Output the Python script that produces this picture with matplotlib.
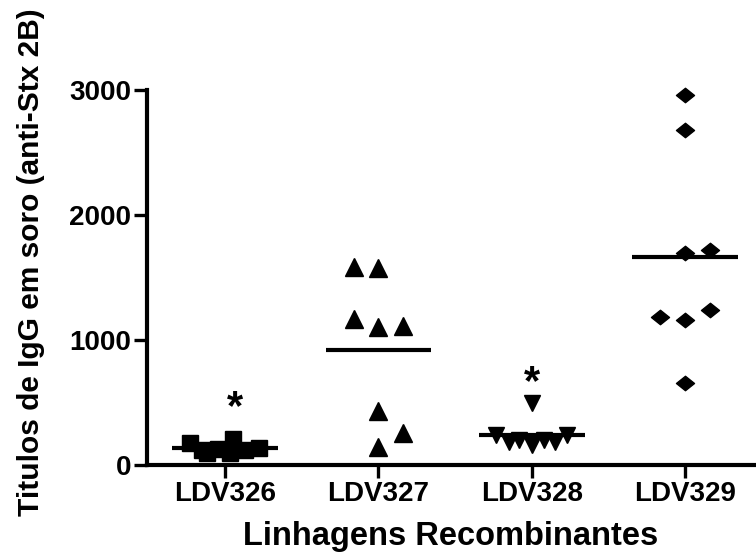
import numpy as np
import matplotlib
matplotlib.use("Agg")
import matplotlib.pyplot as plt
from matplotlib.path import Path

# ---------------------------------------------------------------- data
groups = ["LDV326", "LDV327", "LDV328", "LDV329"]
ldv326 = [180, 120, 95, 130, 205, 100, 120, 140]
ldv327 = [1586, 1578, 1168, 1104, 1114, 432, 256, 146]
ldv328 = [498, 240, 187, 200, 160, 200, 187, 240]
ldv329 = [2960, 2680, 1696, 1720, 1184, 1160, 1240, 656]
star_groups = ["LDV326", "LDV328"]          # groups marked with *
star_y = [560, 760]
y_ticks = [0, 1000, 2000, 3000]

# horizontal scatter of the points inside each column (layout only)
dx326 = [-0.23, -0.15, -0.12, -0.05, 0.05, 0.03, 0.13, 0.22]
dx327 = [-0.16, 0.0, -0.16, 0.0, 0.16, 0.0, 0.16, 0.0]
dx328 = [0.0, -0.23, -0.15, -0.08, 0.0, 0.08, 0.15, 0.23]
dx329 = [0.0, 0.0, 0.0, 0.16, -0.16, 0.0, 0.16, 0.0]
star_dx = [0.065, 0.0]

# flattened diamond like the GraphPad symbol
diamond = Path([(-1, 0), (0, 0.8), (1, 0), (0, -0.8), (-1, 0)],
               [Path.MOVETO, Path.LINETO, Path.LINETO, Path.LINETO, Path.CLOSEPOLY])
series = [(ldv326, dx326, "s", 12), (ldv327, dx327, "^", 13),
          (ldv328, dx328, "v", 12), (ldv329, dx329, diamond, 13)]

plt.rcParams["font.family"] = ["Liberation Sans", "DejaVu Sans"]
plt.rcParams["font.weight"] = "bold"

fig = plt.figure(figsize=(7.56, 5.59), dpi=100)
ax = fig.add_axes([147 / 756, 94 / 559, 607 / 756, 375 / 559])

for i, (vals, dx, mk, ms) in enumerate(series):
    pos = i + 1
    v = np.asarray(vals, float)
    ax.plot(pos + np.asarray(dx), v, linestyle="none", marker=mk, ms=ms,
            color="black", mec="black", clip_on=False, zorder=3)
    # horizontal bar = group mean
    ax.hlines(v.mean(), pos - 0.345, pos + 0.345, color="black", lw=3, zorder=2)

fs = 30
for g, y, d in zip(star_groups, star_y, star_dx):
    pos = groups.index(g) + 1
    # shift down so the ink of the asterisk (not its baseline) sits at y
    ax.annotate("*", xy=(pos + d, y), xytext=(0, -0.58 * fs), textcoords="offset points",
                ha="center", va="baseline", fontsize=fs, fontweight="bold")

ax.set_xlim(0.49, 4.45)
ax.set_ylim(0, 3000)
ax.set_xticks(range(1, len(groups) + 1))
ax.set_xticklabels(groups)
ax.set_yticks(y_ticks)
ax.spines["top"].set_visible(False)
ax.spines["right"].set_visible(False)
for s in ("left", "bottom"):
    ax.spines[s].set_linewidth(3)
ax.tick_params(axis="both", length=9.5, width=2.4, labelsize=20, pad=2)

ax.set_xlabel("Linhagens Recombinantes", fontsize=23.5, fontweight="bold")
ax.xaxis.set_label_coords(0.5, -0.148)
ax.set_ylabel("Titulos de IgG em soro (anti-Stx 2B)", fontsize=21.5, fontweight="bold")
ax.yaxis.set_label_coords(-0.168, 0.54)

fig.savefig("out.png", dpi=100)
